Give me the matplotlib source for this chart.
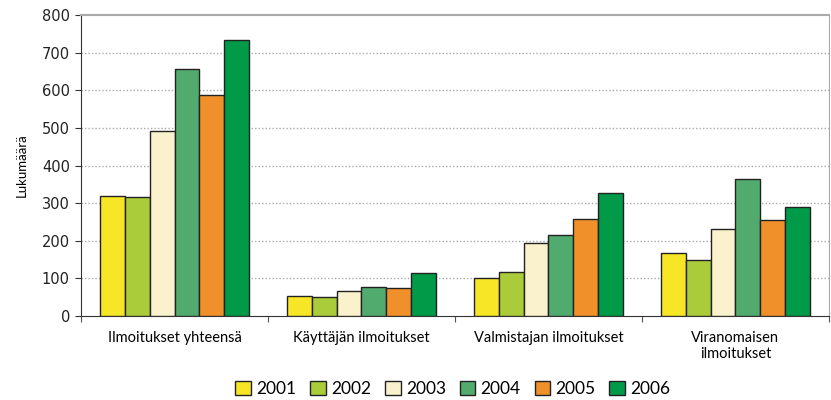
import numpy as np
from matplotlib import pyplot as plt
from matplotlib.patches import Patch

categories = ["Ilmoitukset yhteensä", "Käyttäjän ilmoitukset",
              "Valmistajan ilmoitukset", "Viranomaisen\nilmoitukset"]
years = ["2001", "2002", "2003", "2004", "2005", "2006"]
v2001 = [320, 53, 100, 167]
v2002 = [315, 50, 116, 148]
v2003 = [492, 66, 195, 230]
v2004 = [657, 78, 215, 363]
v2005 = [587, 74, 257, 254]
v2006 = [733, 113, 327, 291]
values = [v2001, v2002, v2003, v2004, v2005, v2006]
colors = ["#F7E626", "#ABCC3A", "#FAF2CC", "#52AB6E", "#F0902A", "#009A48"]

plt.rcParams["font.family"] = ["Lato", "DejaVu Sans"]

fig = plt.figure(figsize=(8.31, 4.0), dpi=100)
ax = fig.add_axes([0.0975, 0.21, 0.9, 0.7525])

x = np.arange(len(categories))
width = 0.8 / len(years)
for i, (vals, c) in enumerate(zip(values, colors)):
    offs = (i - (len(years) - 1) / 2) * width
    ax.bar(x + offs, vals, width, color=c, edgecolor="#222222",
           linewidth=1.0, zorder=3)

ax.set_xlim(-0.5, len(categories) - 0.5)
ax.set_ylim(0, 800)
ax.set_yticks(range(0, 801, 100))
ax.tick_params(axis="y", length=4, color="#333333", pad=4)
for lbl in ax.get_yticklabels():
    lbl.set_fontfamily("DejaVu Sans")
    lbl.set_fontsize(10.5)
    lbl.set_color("#222222")

# category labels between boundary ticks
ax.set_xticks(np.arange(len(categories) + 1) - 0.5)
ax.set_xticklabels([])
ax.tick_params(axis="x", length=4, color="#555555")
ax.set_xticks(x, minor=True)
ax.set_xticklabels(categories, minor=True, fontsize=10.5)
ax.tick_params(axis="x", which="minor", length=0, pad=11)

for y in range(100, 800, 100):
    ax.axhline(y, color="#aaaaaa", linestyle=(0, (1, 1.5)), linewidth=1.0, zorder=1)

ax.spines["top"].set_color("#aaaaaa")
ax.spines["top"].set_linewidth(1.5)
ax.spines["right"].set_color("#aaaaaa")
ax.spines["left"].set_color("#333333")
ax.spines["bottom"].set_color("#333333")

ax.set_ylabel("Lukumäärä", fontsize=9.5, labelpad=10)

handles = [Patch(facecolor=c, edgecolor="#222222", label=y) for y, c in zip(years, colors)]
fig.legend(handles=handles, loc="center", bbox_to_anchor=(0.545, 0.028), ncol=6,
           frameon=False, fontsize=12.5, handlelength=0.9, handleheight=0.9,
           handletextpad=0.3, columnspacing=0.8)

fig.savefig("out.png", dpi=100)
